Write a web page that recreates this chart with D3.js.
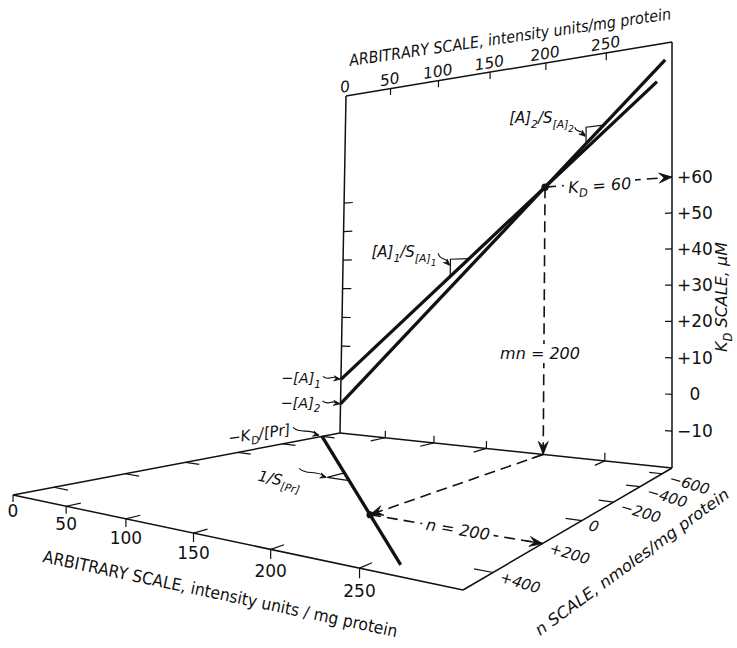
<!DOCTYPE html>
<html>
<head>
<meta charset="utf-8">
<script src="https://cdn.jsdelivr.net/npm/d3@7"></script>
<style>
  body { margin: 0; background: #fff; }
  svg text { font-family: "DejaVu Sans", "Liberation Sans", sans-serif; fill: #111; }
</style>
</head>
<body>
<svg id="chart" width="737" height="648"></svg>
<script>
// ---- values ----
const xTicks = [0, 50, 100, 150, 200, 250];              // arbitrary scale, intensity units / mg protein
const kdTicks = [60, 50, 40, 30, 20, 10, 0, -10];         // K_D scale, µM (right edge of back plane)
const kdTickLabels = ["+60", "+50", "+40", "+30", "+20", "+10", "0", "\u221210"];
const kdLeftTicks = [10, 20, 30, 40, 50, 60];
const nTicks = [-600, -400, -200, 0, 200, 400];           // n scale, nmoles / mg protein
const nTickLabels = ["\u2212600", "\u2212400", "\u2212200", "0", "+200", "+400"];
const xExtent = [0, 300];
const kdExtent = [-20, 98];
const nExtent = [-700, 500];
const lineA1 = [[0, -1.5], [289, 87.4]];                  // from -[A]1 through K_D point
const lineA2 = [[0, -10], [295, 93.25]];                  // from -[A]2 through K_D point
const kdPoint = [200, 60];                                // mn = 200, K_D = 60
const floorLine = [[0, -600], [262, 448]];                // from -K_D/[Pr] through n point
const nPoint = [200, 200];                                // n = 200
const slopeA1 = [114, 18];                                // slope-triangle start X, run
const slopeA2 = [234, 14];
const slopePr = [118, 18];

// ---- layout ----
const backCorners  = [[340, 433], [672, 468], [672, 42], [346, 96]];
const floorCorners = [[340, 433], [672, 468], [463, 590], [13, 495]];
const INK = "#111";

const svg = d3.select("#chart");
const g = svg.append("g");

// unit square -> quadrilateral (projective)
function quadMap(p) {
  const [x0, y0] = p[0], [x1, y1] = p[1], [x2, y2] = p[2], [x3, y3] = p[3];
  const dx1 = x1 - x2, dx2 = x3 - x2, dx3 = x0 - x1 + x2 - x3;
  const dy1 = y1 - y2, dy2 = y3 - y2, dy3 = y0 - y1 + y2 - y3;
  const det = dx1 * dy2 - dx2 * dy1;
  const gg = (dx3 * dy2 - dx2 * dy3) / det;
  const hh = (dx1 * dy3 - dx3 * dy1) / det;
  const a = x1 - x0 + gg * x1, b = x3 - x0 + hh * x3, c = x0;
  const d = y1 - y0 + gg * y1, e = y3 - y0 + hh * y3, f = y0;
  return (u, v) => {
    const w = gg * u + hh * v + 1;
    return [(a * u + b * v + c) / w, (d * u + e * v + f) / w];
  };
}

const sX = d3.scaleLinear().domain(xExtent).range([0, 1]);
const sK = d3.scaleLinear().domain(kdExtent).range([0, 1]);
const sN = d3.scaleLinear().domain(nExtent).range([0, 1]);
const backQ = quadMap(backCorners);
const floorQ = quadMap(floorCorners);
const back = (X, K) => backQ(sX(X), sK(K));
const floor = (X, n) => floorQ(sX(X), sN(n));

const kA1 = d3.scaleLinear().domain([lineA1[0][0], lineA1[1][0]]).range([lineA1[0][1], lineA1[1][1]]);
const kA2 = d3.scaleLinear().domain([lineA2[0][0], lineA2[1][0]]).range([lineA2[0][1], lineA2[1][1]]);
const nPr = d3.scaleLinear().domain([floorLine[0][0], floorLine[1][0]]).range([floorLine[0][1], floorLine[1][1]]);

const line = d3.line();
function path(pts, w, dash) {
  const p = g.append("path").attr("d", line(pts)).attr("fill", "none")
    .attr("stroke", INK).attr("stroke-width", w).attr("stroke-linecap", "butt");
  if (dash) p.attr("stroke-dasharray", dash);
  return p;
}
function arrowHead(tip, from, L = 13, W = 5, notch = 8) {
  const dx = tip[0] - from[0], dy = tip[1] - from[1];
  const len = Math.hypot(dx, dy), ux = dx / len, uy = dy / len, px = -uy, py = ux;
  const b = [tip[0] - ux * L, tip[1] - uy * L];
  const pts = [tip, [b[0] + px * W, b[1] + py * W], [tip[0] - ux * notch, tip[1] - uy * notch], [b[0] - px * W, b[1] - py * W]];
  g.append("path").attr("d", line(pts) + "Z").attr("fill", INK).attr("stroke", INK).attr("stroke-width", 0.8);
}
function squiggle(a, b) {
  const dx = b[0] - a[0], dy = b[1] - a[1];
  const len = Math.hypot(dx, dy), px = -dy / len, py = dx / len;
  const c1 = [a[0] + dx * 0.35 + px * 5, a[1] + dy * 0.35 + py * 5];
  const c2 = [a[0] + dx * 0.55 - px * 5, a[1] + dy * 0.55 - py * 5];
  g.append("path").attr("d", `M${a}C${c1} ${c2} ${b}`).attr("fill", "none")
    .attr("stroke", INK).attr("stroke-width", 1.1);
  arrowHead(b, [a[0] + dx * 0.7, a[1] + dy * 0.7], 6, 2.6, 4);
}
function rich(sel, parts) {
  let level = 0;
  parts.forEach(p => {
    const lv = p.sub || 0;
    const t = sel.append("tspan").text(p.t);
    const shift = (lv - level) * 4.5;
    if (shift) t.attr("dy", shift);
    if (lv === 1) t.attr("font-size", "0.72em");
    if (lv === 2) t.attr("font-size", "0.6em");
    level = lv;
  });
  return sel;
}
function label(x, y, opts = {}) {
  const t = g.append("text").attr("x", x).attr("y", y)
    .attr("font-size", opts.size || 16)
    .attr("text-anchor", opts.anchor || "start");
  if (opts.italic) t.attr("font-style", "italic");
  if (opts.rotate) t.attr("transform", `rotate(${opts.rotate},${x},${y})`);
  return t;
}
function blank(textSel, pad = 2) {
  const bb = textSel.node().getBBox();
  g.insert("rect", () => textSel.node())
    .attr("x", bb.x - pad).attr("y", bb.y).attr("width", bb.width + 2 * pad).attr("height", bb.height)
    .attr("fill", "#fff").attr("transform", textSel.attr("transform"));
}

// ---- floor plane (X vs n) ----
path([floor(0, nExtent[0]), floor(300, nExtent[0])], 1.5);
path([floor(0, nExtent[0]), floor(0, nExtent[1])], 1.5);
path([floor(0, nExtent[1]), floor(300, nExtent[1])], 1.5);
path([floor(300, nExtent[0]), floor(300, nExtent[1])], 1.5);

// ---- back plane (X vs K_D) ----
path([back(0, kdExtent[0]), back(0, kdExtent[1])], 1.5);
path([back(0, kdExtent[1]), back(300, kdExtent[1])], 1.5);
path([back(300, kdExtent[1]), back(300, kdExtent[0])], 1.5);

// ticks: top edge, back floor edge, front edge
xTicks.filter(v => v > 0).forEach(X => {
  path([back(X, kdExtent[1]), back(X, kdExtent[1] - 2.2)], 1.2);
  path([back(X, kdExtent[0]), back(X, kdExtent[0] + 2.3)], 1.2);
  path([floor(X, nExtent[0]), floor(X, nExtent[0] + 85)], 1.2);
  path([floor(X, nExtent[1]), floor(X, nExtent[1] - 35)], 1.2);
});
xTicks.forEach(X => {
  const p = floor(X, nExtent[1]);
  path([p, [p[0], p[1] + 7 + X / 80]], 1.2);
});
kdLeftTicks.forEach(K => path([back(0, K), back(10, K)], 1.2));
kdTicks.forEach(K => path([back(300, K), back(295, K)], 1.2));
nTicks.forEach(n => {
  path([floor(0, n), floor(14, n)], 1.2);
  path([floor(300, n), floor(291, n)], 1.2);
});

// ---- dashed construction lines ----
const dash = "11,6";
const kdP = back(kdPoint[0], kdPoint[1]);
const kdEnd = back(300, kdPoint[1]);
path([kdP, kdEnd], 1.6, dash);
arrowHead(kdEnd, kdP);

const mnBottom = back(kdPoint[0], kdExtent[0]);
path([kdP, mnBottom], 1.6, dash);
arrowHead(mnBottom, kdP);

const nBack = floor(nPoint[0], nExtent[0]);
const nP = floor(nPoint[0], nPoint[1]);
path([nBack, nP], 1.6, dash);
arrowHead(nP, nBack);

const nEnd = floor(300, nPoint[1]);
path([nP, nEnd], 1.6, dash);
arrowHead(nEnd, nP);

// ---- plotted lines ----
path(lineA1.map(d => back(d[0], d[1])), 3.3);
path(lineA2.map(d => back(d[0], d[1])), 3.3);
path(floorLine.map(d => floor(d[0], d[1])), 3.3);

// slope triangles
[[slopeA1, kA1], [slopeA2, kA2]].forEach(([s, f]) => {
  const [xa, run] = s;
  path([back(xa, f(xa)), back(xa, f(xa + run)), back(xa + run, f(xa + run))], 1.2);
});
{
  const [xa, run] = slopePr;
  path([floor(xa, nPr(xa)), floor(xa, nPr(xa + run)), floor(xa + run, nPr(xa + run))], 1.2);
}

// points
g.append("circle").attr("cx", kdP[0]).attr("cy", kdP[1]).attr("r", 3.6).attr("fill", INK);
g.append("circle").attr("cx", nP[0]).attr("cy", nP[1]).attr("r", 3.6).attr("fill", INK);

// ---- tick labels ----
xTicks.forEach(X => {
  const p = back(X, kdExtent[1]);
  label(p[0], p[1] - 4, { size: 15.5, italic: true, anchor: "middle", rotate: -9 }).text(X);
});
kdTicks.forEach((K, i) => {
  const p = back(300, K);
  label(p[0] + 23, p[1] + 6, { size: 17, anchor: "middle" }).text(kdTickLabels[i]);
});
xTicks.forEach(X => {
  const p = floor(X, nExtent[1]);
  label(p[0], p[1] + 22 + X * 0.028, { size: 17, anchor: "middle" }).text(X);
});
nTicks.forEach((n, i) => {
  const p = floor(300, n);
  label(p[0] + 6, p[1] + 9, { size: 15, italic: true, rotate: 17 }).text(nTickLabels[i]);
});

// ---- axis titles ----
label(350, 66, { size: 16, italic: true, rotate: -8.3 }).attr("textLength", 325)
  .attr("lengthAdjust", "spacingAndGlyphs").text("ARBITRARY SCALE, intensity units/mg protein");
label(42, 562, { size: 17, rotate: 12 }).attr("textLength", 362)
  .attr("lengthAdjust", "spacingAndGlyphs").text("ARBITRARY  SCALE, intensity units / mg protein");
label(540, 636, { size: 16, italic: true, rotate: -36.2 }).attr("textLength", 236)
  .attr("lengthAdjust", "spacingAndGlyphs").text("n SCALE, nmoles/mg protein");
rich(label(727, 297, { size: 16, italic: true, anchor: "middle", rotate: -90 }),
  [{ t: "K" }, { t: "D", sub: 1 }, { t: " SCALE, \u03bcM" }]);

// ---- annotations ----
{
  const t = rich(label(600, 191, { size: 16, italic: true, anchor: "middle", rotate: -4 }),
    [{ t: "K" }, { t: "D", sub: 1 }, { t: " = 60", sub: 0 }]);
  blank(t, 4);
}
{
  const t = label(kdP[0] - 5, 359, { size: 16, italic: true, anchor: "middle" }).text("mn = 200");
  blank(t, 3);
}
{
  const t = label(457, 535, { size: 16, italic: true, anchor: "middle", rotate: 9.5 }).text("n = 200");
  blank(t, 4);
}
{
  const p = back(0, lineA1[0][1]);
  rich(label(p[0] - 20, p[1] + 4, { size: 14.5, italic: true, anchor: "end" }),
    [{ t: "\u2212[A]" }, { t: "1", sub: 1 }]);
  squiggle([p[0] - 18, p[1] - 3], [p[0] - 1, p[1]]);
}
{
  const p = back(0, lineA2[0][1]);
  rich(label(p[0] - 20, p[1] + 4, { size: 14.5, italic: true, anchor: "end" }),
    [{ t: "\u2212[A]" }, { t: "2", sub: 1 }]);
  squiggle([p[0] - 18, p[1] - 3], [p[0] - 1, p[1]]);
}
{
  const v = back(slopeA1[0], kA1(slopeA1[0] + slopeA1[1]));
  rich(label(v[0] - 14, v[1] - 2, { size: 15, italic: true, anchor: "end" }),
    [{ t: "[A]" }, { t: "1", sub: 1 }, { t: "/S", sub: 0 }, { t: "[A]", sub: 1 }, { t: "1", sub: 2 }]);
  squiggle([v[0] - 12, v[1] - 6], [v[0] - 1, v[1] + 6]);
}
{
  const v = back(slopeA2[0], kA2(slopeA2[0] + slopeA2[1]));
  rich(label(v[0] - 12, v[1] - 4, { size: 15, italic: true, anchor: "end" }),
    [{ t: "[A]" }, { t: "2", sub: 1 }, { t: "/S", sub: 0 }, { t: "[A]", sub: 1 }, { t: "2", sub: 2 }]);
  squiggle([v[0] - 11, v[1] + 0], [v[0] - 1, v[1] + 9]);
}
{
  const p = floor(floorLine[0][0], floorLine[0][1]);
  rich(label(p[0] - 31, p[1] - 2, { size: 15, italic: true, anchor: "end", rotate: -8 }),
    [{ t: "\u2212K" }, { t: "D", sub: 1 }, { t: "/[Pr]", sub: 0 }]);
  squiggle([p[0] - 29, p[1] - 9], [p[0] - 3, p[1] - 1]);
}
{
  const v = floor(slopePr[0], nPr(slopePr[0] + slopePr[1]));
  rich(label(v[0] - 70, v[1] + 3, { size: 15, italic: true, rotate: 12 }),
    [{ t: "1/S" }, { t: "[Pr]", sub: 1 }]);
  squiggle([v[0] - 28, v[1] - 9], [v[0] - 1, v[1]]);
}
</script>
</body>
</html>
